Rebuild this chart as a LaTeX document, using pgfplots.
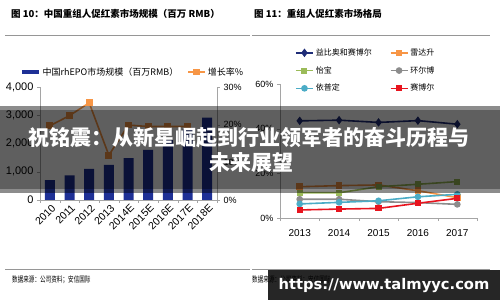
\documentclass[border=0pt]{standalone}
\usepackage{pgfplots}
\pgfplotsset{compat=1.18}
\usepackage{graphicx}
\usepackage{fontspec}
\setmainfont{Liberation Sans}
\newfontfamily\cjk{Noto Sans CJK SC}
\newfontfamily\urlfont{DejaVu Sans}
\definecolor{barblue}{RGB}{30,48,150}
\definecolor{navy}{RGB}{31,45,120}
\definecolor{eorange}{RGB}{247,150,70}
\definecolor{egreen}{RGB}{155,187,89}
\definecolor{egray}{RGB}{140,140,140}
\definecolor{eblue}{RGB}{75,172,198}
\definecolor{ered}{RGB}{232,20,30}
\definecolor{axgray}{RGB}{165,165,165}
\definecolor{rulegray}{RGB}{150,150,150}
\begin{document}
\begin{tikzpicture}
\path[use as bounding box] (0,0) rectangle (500bp,300bp);
% titles
\node[anchor=west, inner sep=0, font=\cjk\bfseries\fontsize{9.5bp}{11bp}\selectfont] at (11bp,286bp) {图 10：中国重组人促红素市场规模（百万 RMB）};
\node[anchor=west, inner sep=0, font=\cjk\bfseries\fontsize{9.5bp}{11bp}\selectfont] at (254bp,286bp) {图 11：重组人促红素市场格局};
\draw[rulegray, line width=0.8bp] (5bp,265bp) -- (250bp,265bp);
\draw[rulegray, line width=0.8bp] (252bp,265bp) -- (490bp,265bp);
\draw[rulegray, line width=0.8bp] (5bp,31bp) -- (250bp,31bp);
\draw[rulegray, line width=0.8bp] (252bp,31bp) -- (490bp,31bp);
\node[anchor=west, inner sep=0, font=\cjk\fontsize{8bp}{9bp}\selectfont] at (12bp,20bp) {\scalebox{0.7}[1]{数据来源：公司资料；安信国际}};
\node[anchor=west, inner sep=0, font=\cjk\fontsize{8bp}{9bp}\selectfont] at (252bp,20bp) {\scalebox{0.7}[1]{数据来源：公司资料；安信国际}};

% ---------- left chart: bars ----------
\begin{axis}[
  at={(40bp,100bp)}, anchor=south west,
  scale only axis, width=177bp, height=113bp,
  xmin=-0.5, xmax=8.5, ymin=0, ymax=4000,
  axis x line*=bottom, axis y line*=left,
  axis line style={draw=axgray, line width=0.6bp, -},
  xtick={0,...,8},
  xticklabels={2010,2011,2012,2013,2014E,2015E,2016E,2017E,2018E},
  minor xtick={-0.5,0.5,...,8.5},
  major x tick style={draw=none},
  minor x tick style={draw=axgray},
  tick align=outside, major tick length=3bp, minor tick length=3bp,
  x tick label style={rotate=45, anchor=east, font=\fontsize{10.5bp}{12bp}\selectfont, inner sep=1bp, yshift=-5bp, xshift=1.5bp},
  ytick={0,1000,2000,3000,4000},
  y tick label style={font=\fontsize{11bp}{13bp}\selectfont},
  y tick style={draw=axgray},
  /pgf/number format/1000 sep={,},
  /pgf/number format/assume math mode=true,
]
\addplot[ybar, bar width=10bp, fill=barblue, draw=none] coordinates {
 (0,700) (1,870) (2,1100) (3,1240) (4,1480) (5,1770) (6,2120) (7,2500) (8,2920)};
\end{axis}
% ---------- left chart: growth ----------
\begin{axis}[
  at={(40bp,100bp)}, anchor=south west,
  scale only axis, width=177bp, height=113bp,
  xmin=-0.5, xmax=8.5, ymin=0, ymax=30,
  axis x line=none, axis y line*=right,
  axis line style={draw=axgray, line width=0.6bp, -},
  ytick={0,10,20,30},
  yticklabel={\pgfmathprintnumber{\tick}\%},
  y tick label style={font=\fontsize{9bp}{11bp}\selectfont},
  tick align=outside, major tick length=3bp,
  y tick style={draw=axgray},
  /pgf/number format/assume math mode=true,
  legend style={at={(-0.113,1.133)}, anchor=west, draw=none, fill=none,
    inner sep=0pt, legend columns=2,
    font=\cjk\fontsize{9bp}{10bp}\selectfont,
    /tikz/every even column/.append style={column sep=7bp}},
  legend cell align=left,
]
\addlegendimage{barblue, line width=3.5bp}
\addlegendentry{中国rhEPO市场规模（百万RMB）}
\addplot[eorange, line width=1.6bp, mark=square*, mark size=2.6bp, mark options={solid}] coordinates {
 (0,19.7) (1,22.4) (2,25.8) (3,11.9) (4,19.9) (5,19.5) (6,19.5) (7,19.5)};
\addlegendentry{增长率\%}
\end{axis}

% ---------- right chart ----------
\begin{axis}[
  at={(280bp,82bp)}, anchor=south west,
  scale only axis, width=197bp, height=134bp,
  xmin=2012.5, xmax=2017.5, ymin=0, ymax=60,
  axis x line*=bottom, axis y line*=left,
  axis line style={draw=axgray, line width=0.6bp, -},
  xtick={2013,2014,2015,2016,2017},
  xticklabels={2013,2014,2015,2016,2017},
  minor xtick={2012.5,2013.5,2014.5,2015.5,2016.5,2017.5},
  major x tick style={draw=none},
  minor x tick style={draw=axgray},
  tick align=outside, major tick length=3bp, minor tick length=3bp,
  x tick label style={font=\fontsize{10bp}{12bp}\selectfont, inner sep=2bp, yshift=-6bp},
  ytick={0,20,40,60},
  yticklabel={\pgfmathprintnumber{\tick}\%},
  y tick label style={font=\fontsize{9bp}{11bp}\selectfont},
  y tick style={draw=axgray},
  /pgf/number format/assume math mode=true,
  legend style={at={(0.076,1.28)}, anchor=north west, draw=none, fill=none,
    inner sep=0pt, legend columns=2, row sep=5.5bp,
    font=\cjk\fontsize{8bp}{9bp}\selectfont,
    /tikz/every even column/.append style={column sep=16bp}},
  legend cell align=left,
  every axis plot/.append style={line width=1.6bp, mark options={solid}},
]
\addplot[navy, mark=diamond*, mark size=3bp] coordinates {(2013,43.5) (2014,43.8) (2015,42.8) (2016,43.6) (2017,42.0)};
\addlegendentry{益比奥和赛博尔}
\addplot[eorange, mark=square*, mark size=2.5bp] coordinates {(2013,14.0) (2014,14.5) (2015,14.8) (2016,12.2) (2017,9.1)};
\addlegendentry{雷达升}
\addplot[egreen, mark=square*, mark size=2.2bp] coordinates {(2013,11.3) (2014,11.3) (2015,14.0) (2016,15.1) (2017,16.3)};
\addlegendentry{怡宝}
\addplot[egray, mark=*, mark size=2.5bp] coordinates {(2013,8.4) (2014,8.4) (2015,7.3) (2016,6.9) (2017,6.1)};
\addlegendentry{环尔博}
\addplot[eblue, mark=*, mark size=2.5bp] coordinates {(2013,6.3) (2014,7.0) (2015,7.7) (2016,9.5) (2017,10.6)};
\addlegendentry{依普定}
\addplot[ered, mark=square*, mark size=2.3bp] coordinates {(2013,3.6) (2014,4.0) (2015,4.3) (2016,6.6) (2017,8.8)};
\addlegendentry{赛博尔}
\end{axis}

% ---------- banner overlay ----------
\fill[black, opacity=0.45] (0,107bp) rectangle (500bp,194bp);
\fill[black, opacity=0.32] (0,111bp) rectangle (500bp,190bp);
\node[text=white, inner sep=0, font=\cjk\bfseries\fontsize{21bp}{25bp}\selectfont] at (249bp,162bp) {祝铭震：从新星崛起到行业领军者的奋斗历程与};
\node[text=white, inner sep=0, font=\cjk\bfseries\fontsize{21bp}{25bp}\selectfont] at (251bp,137bp) {未来展望};
% ---------- url box ----------
\fill[black, opacity=0.85] (268bp,0) rectangle (500bp,30bp);
\node[text=white, inner sep=0, font=\urlfont\bfseries\fontsize{14.7bp}{17bp}\selectfont] at (384bp,14bp) {https://www.talmyyc.com};
\end{tikzpicture}
\end{document}
